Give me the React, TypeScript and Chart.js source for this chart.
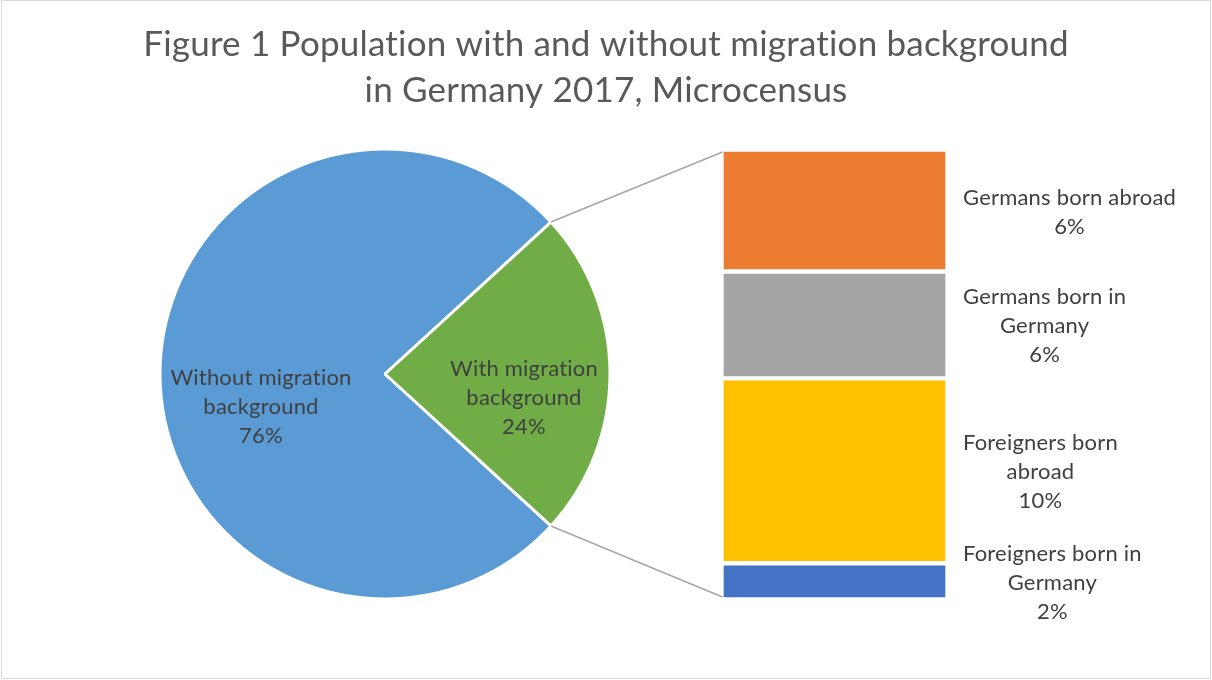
import React, { useEffect, useRef } from "react";
import { Chart, registerables } from "chart.js";

Chart.register(...registerables);

const TITLE_LINES = [
  "Figure 1 Population with and without migration background",
  "in Germany 2017, Microcensus",
];

const PIE_CATEGORIES = ["Without migration background", "With migration background"];
const PIE_VALUES = [76.4, 23.6];
const PIE_COLORS = ["#5B9BD5", "#70AD47"];
const PIE_LABEL_LINES = [
  ["Without migration", "background"],
  ["With migration", "background"],
];

const BAR_CATEGORIES = [
  "Germans born abroad",
  "Germans born in Germany",
  "Foreigners born abroad",
  "Foreigners born in Germany",
];
const BAR_VALUES = [6.4, 5.6, 9.7, 1.9];
const BAR_COLORS = ["#ED7D31", "#A5A5A5", "#FFC000", "#4472C4"];
const BAR_LABEL_LINES = [
  ["Germans born abroad"],
  ["Germans born in", "Germany"],
  ["Foreigners born", "abroad"],
  ["Foreigners born in", "Germany"],
];

const W = 1212;
const H = 680;
const PIE_W = 770;
const FONT = "Lato, 'Open Sans', sans-serif";
const TITLE_COLOR = "#595959";
const LABEL_COLOR = "#404040";
const LINE_COLOR = "#A6A6A6";
const TITLE_SIZE = 35;
const LABEL_SIZE = 22;
const LINE_H = 29;
const BAR_BORDER = 2.5;
// pie label anchor offsets (from pie center) for the middle text line baseline
const PIE_LABEL_OFFSETS = [
  [-124, 40],
  [139, 31],
];

const pct = (v: number) => `${Math.round(v)}%`;

function setSpacing(ctx: any, v: string) {
  try {
    if ("letterSpacing" in ctx) ctx.letterSpacing = v;
  } catch (e) {
    /* ignore */
  }
}

export default function App() {
  const barRef = useRef<HTMLCanvasElement>(null);
  const pieRef = useRef<HTMLCanvasElement>(null);

  useEffect(() => {
    if (!barRef.current || !pieRef.current) return;
    const total = BAR_VALUES.reduce((a, b) => a + b, 0);
    const order = BAR_VALUES.map((_, i) => i).reverse(); // bottom of stack first

    const titlePlugin = {
      id: "customTitle",
      afterDraw(chart: any) {
        const ctx = chart.ctx;
        ctx.save();
        ctx.fillStyle = TITLE_COLOR;
        ctx.font = `${TITLE_SIZE}px ${FONT}`;
        setSpacing(ctx, "0.2px");
        ctx.textAlign = "center";
        ctx.textBaseline = "alphabetic";
        TITLE_LINES.forEach((t, i) => ctx.fillText(t, W / 2, 56 + i * 46));
        ctx.restore();
      },
    };

    const barLabelPlugin = {
      id: "barLabels",
      afterDatasetsDraw(chart: any) {
        const ctx = chart.ctx;
        ctx.save();
        ctx.font = `${LABEL_SIZE}px ${FONT}`;
        setSpacing(ctx, "0.2px");
        ctx.fillStyle = LABEL_COLOR;
        ctx.textAlign = "center";
        ctx.textBaseline = "alphabetic";
        chart.data.datasets.forEach((ds: any, di: number) => {
          const el = chart.getDatasetMeta(di).data[0];
          const idx = ds.srcIndex;
          const lines = [...BAR_LABEL_LINES[idx], pct(BAR_VALUES[idx])];
          const maxW = Math.max(...lines.map((l) => ctx.measureText(l).width));
          const left = chart.chartArea.right + 15.5;
          const cx = left + maxW / 2;
          const cy = (el.y + el.base) / 2 + 8.5;
          lines.forEach((l, li) =>
            ctx.fillText(l, cx, cy + (li - (lines.length - 1) / 2) * LINE_H)
          );
        });
        ctx.restore();
      },
    };

    const barChart = new Chart(barRef.current, {
      type: "bar",
      data: {
        labels: ["With migration background"],
        datasets: order.map((i) => ({
          label: BAR_CATEGORIES[i],
          data: [BAR_VALUES[i]],
          backgroundColor: BAR_COLORS[i],
          borderColor: "#FFFFFF",
          borderWidth: BAR_BORDER,
          borderSkipped: false,
          barPercentage: 1,
          categoryPercentage: 1,
          srcIndex: i,
        })) as any,
      },
      options: {
        responsive: false,
        animation: false,
        layout: {
          padding: { left: 721.5, right: W - 947.5, top: 149.5, bottom: H - 599.5 },
        },
        scales: {
          x: { stacked: true, display: false },
          y: { stacked: true, display: false, min: 0, max: total },
        },
        plugins: {
          legend: { display: false },
          tooltip: { enabled: false },
          title: { display: false },
        },
      },
      plugins: [titlePlugin, barLabelPlugin],
    });

    const pieTotal = PIE_VALUES.reduce((a, b) => a + b, 0);
    const halfWith = ((PIE_VALUES[1] / pieTotal) * 360) / 2;

    const piePlugin = {
      id: "pieExtras",
      afterDatasetsDraw(chart: any) {
        const ctx = chart.ctx;
        const meta = chart.getDatasetMeta(0);
        // connector lines
        const arc = meta.data[1];
        const R = arc.outerRadius;
        const topBar = barChart.getDatasetMeta(barChart.data.datasets.length - 1).data[0] as any;
        const botBar = barChart.getDatasetMeta(0).data[0] as any;
        const p1 = [arc.x + R * Math.cos(arc.startAngle), arc.y + R * Math.sin(arc.startAngle)];
        const p2 = [arc.x + R * Math.cos(arc.endAngle), arc.y + R * Math.sin(arc.endAngle)];
        const q1 = [topBar.x - topBar.width / 2 + 1, topBar.y + BAR_BORDER];
        const q2 = [botBar.x - botBar.width / 2 + 1, botBar.base - BAR_BORDER];
        ctx.save();
        ctx.strokeStyle = LINE_COLOR;
        ctx.lineWidth = 1.5;
        ctx.beginPath();
        ctx.moveTo(p1[0], p1[1]);
        ctx.lineTo(q1[0], q1[1]);
        ctx.moveTo(p2[0], p2[1]);
        ctx.lineTo(q2[0], q2[1]);
        ctx.stroke();
        // labels
        ctx.font = `${LABEL_SIZE}px ${FONT}`;
        setSpacing(ctx, "0.2px");
        ctx.fillStyle = LABEL_COLOR;
        ctx.textAlign = "center";
        ctx.textBaseline = "alphabetic";
        meta.data.forEach((el: any, i: number) => {
          const lines = [...PIE_LABEL_LINES[i], pct(PIE_VALUES[i])];
          const cx = el.x + PIE_LABEL_OFFSETS[i][0];
          const cy = el.y + PIE_LABEL_OFFSETS[i][1];
          lines.forEach((l, li) =>
            ctx.fillText(l, cx, cy + (li - (lines.length - 1) / 2) * LINE_H)
          );
        });
        ctx.restore();
      },
    };

    const pieChart = new Chart(pieRef.current, {
      type: "pie",
      data: {
        labels: PIE_CATEGORIES,
        datasets: [
          {
            data: PIE_VALUES,
            backgroundColor: PIE_COLORS,
            borderColor: "#FFFFFF",
            borderWidth: 3,
          },
        ],
      },
      options: {
        responsive: false,
        animation: false,
        rotation: 90 + halfWith,
        radius: 225,
        layout: { padding: { top: 68 } },
        plugins: {
          legend: { display: false },
          tooltip: { enabled: false },
          title: { display: false },
        },
      },
      plugins: [piePlugin],
    });

    return () => {
      pieChart.destroy();
      barChart.destroy();
    };
  }, []);

  return (
    <div
      style={{
        position: "fixed",
        left: 0,
        top: 0,
        width: W,
        height: H,
        background: "#FFFFFF",
        overflow: "hidden",
      }}
    >
      <div
        style={{
          position: "absolute",
          left: 1,
          top: 0,
          width: 1210,
          height: 679,
          boxSizing: "border-box",
          border: "1px solid #D9D9D9",
        }}
      />
      <canvas
        ref={barRef}
        width={W}
        height={H}
        style={{ position: "absolute", left: 0, top: 0, width: W, height: H }}
      />
      <canvas
        ref={pieRef}
        width={PIE_W}
        height={H}
        style={{ position: "absolute", left: 0, top: 0, width: PIE_W, height: H }}
      />
    </div>
  );
}
